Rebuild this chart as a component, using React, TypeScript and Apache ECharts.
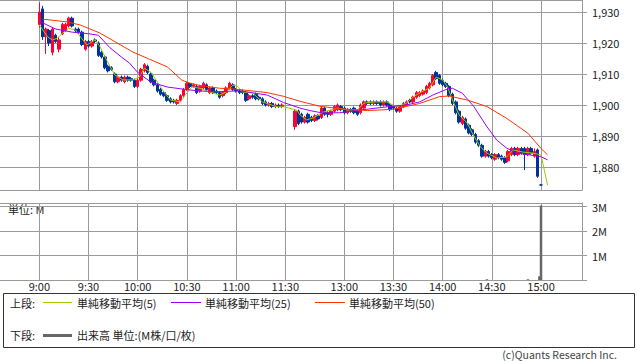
import React, { useEffect, useRef } from "react";
import * as echarts from "echarts";

// x-axis labels shown under the volume panel
const timeLabels = ["9:00", "9:30", "10:00", "10:30", "11:00", "11:30", "13:00", "13:30", "14:00", "14:30", "15:00"];

// 2-minute candles: [time, open, close, low, high]
const candles: [string, number, number, number, number][] = [
  ["9:00", 1926, 1930, 1925, 1933],
  ["9:02", 1931, 1922, 1921, 1932],
  ["9:04", 1922, 1924.5, 1916.5, 1925],
  ["9:06", 1924, 1920, 1919, 1924.5],
  ["9:08", 1917, 1924.5, 1916, 1925],
  ["9:10", 1922.5, 1920.5, 1920, 1923],
  ["9:12", 1918, 1921, 1917, 1922],
  ["9:14", 1923, 1926, 1922.5, 1926.5],
  ["9:16", 1924, 1926, 1923.5, 1926.5],
  ["9:18", 1925.5, 1928, 1925, 1928.5],
  ["9:20", 1928, 1925.5, 1925, 1928.5],
  ["9:22", 1924.5, 1924, 1923.5, 1925],
  ["9:24", 1924.5, 1923.5, 1923, 1925],
  ["9:26", 1923.5, 1919.5, 1919, 1924],
  ["9:28", 1918, 1920.5, 1917.5, 1921],
  ["9:30", 1920.5, 1919, 1918.5, 1921],
  ["9:32", 1919, 1920.5, 1918.5, 1921],
  ["9:34", 1921, 1920.5, 1920, 1921.5],
  ["9:36", 1920, 1916, 1915.5, 1920.5],
  ["9:38", 1917, 1915.5, 1915, 1917.5],
  ["9:40", 1915.5, 1912, 1911.5, 1916],
  ["9:42", 1912.5, 1911, 1910.5, 1913],
  ["9:44", 1912, 1911.5, 1911, 1912.5],
  ["9:46", 1910, 1907.5, 1907, 1910.5],
  ["9:48", 1907.5, 1909, 1907, 1909.5],
  ["9:50", 1909, 1908, 1907.5, 1909.5],
  ["9:52", 1907.5, 1909, 1907, 1909.5],
  ["9:54", 1909, 1908, 1907.5, 1909.5],
  ["9:56", 1908.5, 1908, 1907.5, 1909],
  ["9:58", 1908, 1906, 1905.5, 1908.5],
  ["10:00", 1906, 1908, 1905.5, 1908.5],
  ["10:02", 1908, 1911.5, 1907.5, 1912],
  ["10:04", 1911, 1913, 1910.5, 1913.5],
  ["10:06", 1912.5, 1910.5, 1910, 1913],
  ["10:08", 1910, 1907.5, 1907, 1910.5],
  ["10:10", 1908, 1906.5, 1906, 1908.5],
  ["10:12", 1906.5, 1904.5, 1904, 1907],
  ["10:14", 1905, 1903.5, 1903, 1905.5],
  ["10:16", 1904, 1903, 1902.5, 1904.5],
  ["10:18", 1903, 1901.5, 1901, 1903.5],
  ["10:20", 1902, 1901, 1900.5, 1902.5],
  ["10:22", 1901.5, 1901, 1900.5, 1902],
  ["10:24", 1900.5, 1901.5, 1900, 1902],
  ["10:26", 1901.5, 1903, 1901, 1903.5],
  ["10:28", 1903, 1905, 1902.5, 1905.5],
  ["10:30", 1905, 1907, 1904.5, 1907.5],
  ["10:32", 1907, 1906, 1905.5, 1907],
  ["10:34", 1906, 1906.5, 1905.5, 1907],
  ["10:36", 1906, 1904, 1903.5, 1906.5],
  ["10:38", 1904.5, 1906, 1904, 1906.5],
  ["10:40", 1905.5, 1907, 1905, 1907.5],
  ["10:42", 1906.5, 1905, 1904.5, 1907],
  ["10:44", 1904, 1905.5, 1903.5, 1906],
  ["10:46", 1905.5, 1904, 1903.5, 1906],
  ["10:48", 1904.5, 1904, 1903.5, 1905],
  ["10:50", 1904, 1902.5, 1902, 1904.5],
  ["10:52", 1903, 1904, 1902.5, 1904.5],
  ["10:54", 1904, 1905.5, 1903.5, 1906],
  ["10:56", 1905.5, 1907, 1905, 1907.5],
  ["10:58", 1906.5, 1905, 1904.5, 1907],
  ["11:00", 1905, 1904.5, 1904, 1905.5],
  ["11:02", 1904.5, 1904, 1903.5, 1905],
  ["11:04", 1904.5, 1904, 1903.5, 1905],
  ["11:06", 1904, 1901.5, 1901, 1904.5],
  ["11:08", 1902, 1903, 1901.5, 1903.5],
  ["11:10", 1903, 1902.5, 1902, 1903.5],
  ["11:12", 1903.5, 1902, 1901.5, 1904],
  ["11:14", 1902.5, 1902, 1901.5, 1903],
  ["11:16", 1902, 1900.5, 1900, 1902.5],
  ["11:18", 1901, 1900, 1899.5, 1901.5],
  ["11:20", 1900, 1900.5, 1899.5, 1901],
  ["11:22", 1900.5, 1899.5, 1899, 1901],
  ["11:24", 1899.5, 1900, 1899, 1900.5],
  ["11:26", 1900, 1899.5, 1899, 1900.5],
  ["11:28", 1899.5, 1900, 1899, 1900.5],
  ["12:30", 1893, 1898, 1892, 1898.5],
  ["12:32", 1898, 1894, 1893.5, 1898.5],
  ["12:34", 1897, 1894.5, 1894, 1897.5],
  ["12:36", 1894.5, 1896, 1894, 1896.5],
  ["12:38", 1897, 1894.5, 1894, 1897.5],
  ["12:40", 1896, 1895, 1894.5, 1896.5],
  ["12:42", 1895, 1896.5, 1894.5, 1897],
  ["12:44", 1896.5, 1895.5, 1895, 1897],
  ["12:46", 1896, 1899, 1895.5, 1899.5],
  ["12:48", 1899, 1897, 1896.5, 1899.5],
  ["12:50", 1897.5, 1897, 1896, 1898],
  ["12:52", 1897, 1898, 1896.5, 1898.5],
  ["12:54", 1898, 1899.5, 1897.5, 1900],
  ["12:56", 1898.5, 1900, 1898, 1900.5],
  ["12:58", 1899.5, 1898.5, 1898, 1900],
  ["13:00", 1899, 1897.5, 1897, 1899.5],
  ["13:02", 1897.5, 1898.5, 1897, 1899],
  ["13:04", 1898.5, 1898, 1897.5, 1899],
  ["13:06", 1899, 1897.5, 1897, 1899.5],
  ["13:08", 1898, 1897, 1896.5, 1898.5],
  ["13:10", 1897.5, 1900, 1897, 1900.5],
  ["13:12", 1899, 1901, 1898.5, 1901.5],
  ["13:14", 1901, 1900.5, 1900, 1901.5],
  ["13:16", 1901, 1900.5, 1900, 1901.5],
  ["13:18", 1900.5, 1901, 1900, 1901.5],
  ["13:20", 1901, 1900.5, 1900, 1901.5],
  ["13:22", 1901, 1900, 1899.5, 1901.5],
  ["13:24", 1900, 1901, 1899.5, 1901.5],
  ["13:26", 1901, 1900, 1899.5, 1901.5],
  ["13:28", 1900, 1898.5, 1898, 1900.5],
  ["13:30", 1899.5, 1899, 1898.5, 1900],
  ["13:32", 1899, 1898, 1897.5, 1899.5],
  ["13:34", 1898, 1899.5, 1897.5, 1900],
  ["13:36", 1899.5, 1900.5, 1899, 1901],
  ["13:38", 1900, 1901, 1899.5, 1901.5],
  ["13:40", 1901.5, 1901, 1900.5, 1902],
  ["13:42", 1901, 1902.5, 1900.5, 1903],
  ["13:44", 1902.5, 1904, 1902, 1904.5],
  ["13:46", 1903, 1904, 1902.5, 1904.5],
  ["13:48", 1903.5, 1904.5, 1903, 1905],
  ["13:50", 1904, 1906, 1903.5, 1906.5],
  ["13:52", 1905.5, 1907, 1905, 1907.5],
  ["13:54", 1906.5, 1909.5, 1906, 1910],
  ["13:56", 1910.5, 1908.5, 1908, 1911],
  ["13:58", 1909.5, 1907, 1906.5, 1910],
  ["14:00", 1908, 1906.5, 1906, 1908.5],
  ["14:02", 1907, 1906, 1905.5, 1907.5],
  ["14:04", 1906, 1903, 1902.5, 1906.5],
  ["14:06", 1903.5, 1900.5, 1900, 1904],
  ["14:08", 1901, 1897.5, 1897, 1901.5],
  ["14:10", 1898, 1894.5, 1894, 1898.5],
  ["14:12", 1894, 1896, 1893.5, 1896.5],
  ["14:14", 1895.5, 1892.5, 1892, 1896],
  ["14:16", 1893.5, 1891, 1890.5, 1894],
  ["14:18", 1892, 1890.5, 1890, 1892.5],
  ["14:20", 1890.5, 1888, 1887.5, 1891],
  ["14:22", 1888.5, 1887, 1886.5, 1889],
  ["14:24", 1887, 1883.5, 1883, 1887.5],
  ["14:26", 1883.5, 1885, 1883, 1885.5],
  ["14:28", 1885, 1883.5, 1883, 1885.5],
  ["14:30", 1884, 1883, 1882.5, 1884.5],
  ["14:32", 1882.5, 1884, 1882, 1884.5],
  ["14:34", 1884, 1883, 1882.5, 1884.5],
  ["14:36", 1883.5, 1882.5, 1882, 1884],
  ["14:38", 1883, 1881.5, 1881, 1883.5],
  ["14:40", 1882, 1885, 1881.5, 1885.5],
  ["14:42", 1884, 1886, 1883.5, 1886.5],
  ["14:44", 1886, 1884, 1883.5, 1886.5],
  ["14:46", 1884, 1886, 1883.5, 1886.5],
  ["14:48", 1886, 1884.5, 1884, 1886.5],
  ["14:50", 1886, 1884, 1879, 1886.5],
  ["14:52", 1884, 1886, 1883.5, 1886.5],
  ["14:54", 1886, 1884.5, 1884, 1886.5],
  ["14:56", 1883.5, 1885, 1883, 1886],
  ["14:58", 1885.5, 1877, 1876.5, 1886],
  ["15:00", 1874.2, 1874.2, 1874, 1874.5],
];

// moving averages: [time, value]
const ma5: [string, number][] = [
  ["9:00", 1925.8], ["9:05", 1922], ["9:08", 1921], ["9:11", 1921.5], ["9:14", 1923.1], ["9:18", 1924.7],
  ["9:22", 1924.2], ["9:25", 1922], ["9:29", 1919.4], ["9:34", 1921], ["9:37", 1918.8], ["9:41", 1914.5],
  ["9:46", 1909.7], ["9:51", 1908.1], ["9:57", 1908.1], ["10:01", 1909], ["10:04", 1911.9], ["10:08", 1910.6],
  ["10:12", 1907.4], ["10:16", 1904.2], ["10:20", 1901.6], ["10:26", 1901], ["10:29", 1903.2], ["10:33", 1905.8],
  ["10:38", 1905.4], ["10:44", 1904.2], ["10:50", 1903.2], ["10:54", 1904.2], ["10:58", 1906.4], ["11:01", 1906],
  ["11:04", 1904.2], ["11:10", 1903.9], ["11:16", 1901], ["11:25", 1899.4], ["11:29", 1899.4],
  ["12:31", 1898.4], ["12:33", 1896.8], ["12:37", 1895.2], ["12:41", 1895.8], ["12:47", 1897.7], ["12:56", 1899],
  ["13:02", 1898.4], ["13:08", 1898.4], ["13:12", 1900.6], ["13:18", 1901], ["13:26", 1901], ["13:32", 1899.4],
  ["13:38", 1900.6], ["13:42", 1902.6], ["13:46", 1903.9], ["13:52", 1905.5], ["13:56", 1909], ["14:00", 1908.1],
  ["14:03", 1905.8], ["14:06", 1901.6], ["14:10", 1896.8], ["14:15", 1894.2], ["14:18", 1891], ["14:23", 1886.5],
  ["14:27", 1884.5], ["14:33", 1882.9], ["14:39", 1883.2], ["14:43", 1885.5], ["14:49", 1884.8], ["14:55", 1884.5],
  ["15:00", 1883.9], ["15:02", 1879], ["15:04", 1874.2],
];
const ma25: [string, number][] = [
  ["9:00", 1927], ["9:10", 1924.5], ["9:20", 1923.5], ["9:30", 1923], ["9:36", 1922.5], ["9:43", 1918.5],
  ["9:50", 1915.5], ["9:55", 1913.5], ["10:00", 1910.5], ["10:08", 1907.4], ["10:18", 1905.8], ["10:28", 1905.1],
  ["10:38", 1904.5], ["10:50", 1904.3], ["11:02", 1904.6], ["11:19", 1903.2], ["11:29", 1900.8],
  ["12:33", 1899], ["12:39", 1898.2], ["12:47", 1897.4], ["12:57", 1897.5], ["13:10", 1898.4], ["13:26", 1899.4],
  ["13:38", 1900], ["13:46", 1901], ["13:54", 1903.2], ["14:03", 1905.2], ["14:06", 1905.4], ["14:12", 1903.8],
  ["14:19", 1899.5], ["14:27", 1893], ["14:33", 1888.7], ["14:39", 1886.1], ["14:45", 1884.5], ["14:53", 1883.9],
  ["15:00", 1883.3], ["15:04", 1882.3],
];
const ma50: [string, number][] = [
  ["9:02", 1927.7], ["9:17", 1926.8], ["9:25", 1925.8], ["9:37", 1923.2], ["9:57", 1917.1], ["10:18", 1912.3],
  ["10:27", 1908], ["10:32", 1907], ["10:38", 1906.3], ["10:50", 1905.4], ["10:58", 1905.2], ["11:19", 1904],
  ["11:29", 1902.8], ["12:33", 1901.2], ["12:45", 1899.6], ["12:59", 1898.7], ["13:14", 1898.2], ["13:30", 1898.6],
  ["13:46", 1900.5], ["13:58", 1902.7], ["14:04", 1902.9], ["14:15", 1901.6], ["14:27", 1899.5], ["14:39", 1895.7],
  ["14:52", 1890.9], ["15:00", 1886], ["15:04", 1883.9],
];

// volume in millions
const volume: [string, number][] = [
  ["14:27", 0.03], ["14:52", 0.03], ["14:59", 0.15], ["15:00", 3.05],
];

const fmt = (m: number) => `${Math.floor(m / 60)}:${String(m % 60).padStart(2, "0")}`;

function buildCategories(): string[] {
  const cats: string[] = [];
  for (let i = 0; i < 24; i++) cats.push(fmt(8 * 60 + 36 + i));
  for (let m = 540; m <= 690; m++) cats.push(fmt(m));
  for (let i = 1; i <= 5; i++) cats.push("L" + i);
  for (let m = 750; m <= 900; m++) cats.push(fmt(m));
  for (let m = 901; m <= 925; m++) cats.push(fmt(m));
  return cats;
}

const FONT = "'Noto Sans CJK JP', 'Noto Sans', sans-serif";

export default function App() {
  const ref = useRef<HTMLDivElement>(null);
  useEffect(() => {
    if (!ref.current) return;
    const chart = echarts.init(ref.current, undefined, { renderer: "svg" });
    const cats = buildCategories();
    const idx = new Map<string, number>();
    cats.forEach((c, i) => idx.set(c, i));
    const labelSet = new Set(timeLabels);
    const showAt = (i: number) => labelSet.has(cats[i]);
    const gridColor = "#9a9a9a";

    const candleData = candles.map(([t, o, c, l, h]) => [idx.get(t), o, c, l, h]);
    const lineData = (arr: [string, number][]) => arr.map(([t, v]) => [idx.get(t), v]);
    const volData = volume.map(([t, v]) => [idx.get(t), v]);

    const xBase = {
      type: "category" as const,
      data: cats,
      boundaryGap: false,
      axisLine: { show: true, lineStyle: { color: gridColor } },
      axisTick: { show: false },
      splitLine: { show: true, interval: (i: number) => showAt(i), lineStyle: { color: gridColor, width: 1 } },
    };

    const legendTextStyle = { fontSize: 11, fill: "#222", fontFamily: FONT };

    chart.setOption({
      animation: false,
      textStyle: { fontFamily: FONT },
      grid: [
        { left: 0, top: 0, width: 582, height: 190 },
        { left: 0, top: 203, width: 582, height: 77 },
      ],
      xAxis: [
        { ...xBase, gridIndex: 0, axisLabel: { show: false } },
        {
          ...xBase,
          gridIndex: 1,
          axisLabel: { show: true, interval: (i: number) => showAt(i), color: "#222", fontSize: 11, margin: 0, lineHeight: 12, fontFamily: FONT },
        },
      ],
      yAxis: [
        {
          type: "value",
          gridIndex: 0,
          position: "right",
          min: 1872.58,
          max: 1933.87,
          splitNumber: 6,
          axisLine: { show: true, lineStyle: { color: gridColor } },
          axisTick: { show: true, length: 5, lineStyle: { color: gridColor } },
          axisLabel: {
            color: "#222",
            fontSize: 11,
            margin: 10,
            showMinLabel: false,
            showMaxLabel: false,
            fontFamily: FONT,
            formatter: (v: number) => v.toLocaleString("en-US"),
          },
          splitLine: { show: true, lineStyle: { color: gridColor } },
        },
        {
          type: "value",
          gridIndex: 1,
          position: "right",
          min: 0,
          max: 3.15,
          interval: 1,
          axisLine: { show: true, lineStyle: { color: gridColor } },
          axisTick: { show: true, length: 5, lineStyle: { color: gridColor } },
          axisLabel: {
            color: "#222",
            fontSize: 11,
            margin: 10,
            showMaxLabel: false,
            fontFamily: FONT,
            formatter: (v: number) => (v === 0 ? "" : v + "M"),
          },
          splitLine: { show: true, lineStyle: { color: gridColor } },
        },
      ],
      series: [
        {
          type: "candlestick",
          xAxisIndex: 0,
          yAxisIndex: 0,
          data: candleData,
          encode: { x: 0, y: [1, 2, 3, 4] },
          barWidth: 3,
          itemStyle: {
            color: "#FF0033",
            color0: "#003399",
            borderColor: "#FF0033",
            borderColor0: "#003399",
            borderColorDoji: "#003399",
            borderWidth: 1,
          },
        },
        { type: "line", name: "ma5", xAxisIndex: 0, yAxisIndex: 0, data: lineData(ma5), symbol: "none", lineStyle: { color: "#99CC00", width: 1 } },
        { type: "line", name: "ma25", xAxisIndex: 0, yAxisIndex: 0, data: lineData(ma25), symbol: "none", lineStyle: { color: "#9900FF", width: 1 } },
        { type: "line", name: "ma50", xAxisIndex: 0, yAxisIndex: 0, data: lineData(ma50), symbol: "none", lineStyle: { color: "#FF3300", width: 1 } },
        { type: "bar", xAxisIndex: 1, yAxisIndex: 1, data: volData, barWidth: 2.5, itemStyle: { color: "#666666" } },
      ],
      graphic: [
        { type: "text", left: 8, top: 203, style: { text: "単位: M", ...legendTextStyle } },
        { type: "rect", shape: { x: 3.5, y: 293.5, width: 631, height: 54 }, style: { fill: "none", stroke: "#333", lineWidth: 1 } },
        { type: "text", x: 10, y: 303, style: { text: "上段:", ...legendTextStyle, verticalAlign: "middle" } },
        { type: "line", shape: { x1: 43, y1: 302.5, x2: 72, y2: 302.5 }, style: { stroke: "#99CC00", lineWidth: 1 } },
        { type: "text", x: 77, y: 303, style: { text: "単純移動平均(5)", ...legendTextStyle, verticalAlign: "middle" } },
        { type: "line", shape: { x1: 171, y1: 302.5, x2: 201, y2: 302.5 }, style: { stroke: "#9900FF", lineWidth: 1 } },
        { type: "text", x: 205, y: 303, style: { text: "単純移動平均(25)", ...legendTextStyle, verticalAlign: "middle" } },
        { type: "line", shape: { x1: 315, y1: 302.5, x2: 345, y2: 302.5 }, style: { stroke: "#FF3300", lineWidth: 1 } },
        { type: "text", x: 349, y: 303, style: { text: "単純移動平均(50)", ...legendTextStyle, verticalAlign: "middle" } },
        { type: "text", x: 10, y: 335, style: { text: "下段:", ...legendTextStyle, verticalAlign: "middle" } },
        { type: "line", shape: { x1: 43, y1: 335.5, x2: 72, y2: 335.5 }, style: { stroke: "#666666", lineWidth: 3 } },
        { type: "text", x: 77, y: 335, style: { text: "出来高 単位:(M株/口/枚)", ...legendTextStyle, verticalAlign: "middle" } },
        { type: "text", x: 617, y: 354, style: { text: "(c)Quants Research Inc.", fontSize: 10.5, fill: "#444", fontFamily: FONT, align: "right", verticalAlign: "middle" } },
      ],
    });
    return () => chart.dispose();
  }, []);
  return <div ref={ref} style={{ position: "fixed", left: 0, top: 0, width: 638, height: 362, background: "#fff" }} />;
}
